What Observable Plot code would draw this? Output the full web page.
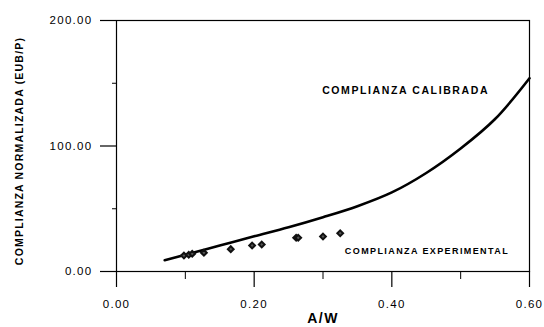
<!DOCTYPE html>
<html>
<head>
<meta charset="utf-8">
<script src="https://cdn.jsdelivr.net/npm/d3@7"></script>
<script src="https://cdn.jsdelivr.net/npm/@observablehq/plot@0.6"></script>
<style>
  html, body { margin: 0; padding: 0; background: #fff; }
  svg { font-family: "Liberation Sans", Arial, sans-serif; }
</style>
</head>
<body>
<div id="chart"></div>
<script>
// Calibrated compliance curve (A/W vs normalized compliance EUB/P)
const curveAW = [0.07, 0.10, 0.15, 0.20, 0.25, 0.30, 0.35, 0.40, 0.45, 0.50, 0.55, 0.60];
const curveC  = [9.0, 13.4, 20.7, 28.0, 35.2, 43.2, 52.0, 63.0, 78.5, 98.0, 121.5, 154.0];

// Experimental compliance measurements
const expAW = [0.098, 0.105, 0.110, 0.127, 0.166, 0.197, 0.211, 0.261, 0.264, 0.300, 0.325];
const expC  = [12.7, 13.3, 14.1, 14.9, 17.8, 20.7, 21.5, 26.9, 26.9, 27.9, 30.5];

// Axis ticks
const xMajor = [0, 0.2, 0.4, 0.6];
const xMinor = [0.1, 0.3, 0.5];
const yMajor = [0, 100, 200];
const yMinor = [50, 150];

// Text
const xTitle = "A/W";
const yTitle = "COMPLIANZA NORMALIZADA (EUB/P)";
const calLabel = {text: "COMPLIANZA CALIBRADA", x: 0.42, y: 144};
const expLabel = {text: "COMPLIANZA EXPERIMENTAL", x: 0.451, y: 16.2};

const curve = curveAW.map((x, i) => ({x, y: curveC[i]}));
const points = expAW.map((x, i) => ({x, y: expC[i]}));

const plot = Plot.plot({
  width: 544,
  height: 327,
  marginLeft: 116,
  marginRight: 15,
  marginTop: 20,
  marginBottom: 56,
  style: {fontFamily: '"Liberation Sans", Arial, sans-serif', background: "#fff", color: "#000"},
  x: {domain: [0, 0.6]},
  y: {domain: [0, 200]},
  marks: [
    Plot.frame({stroke: "#000", strokeWidth: 1.2}),
    Plot.axisX(xMajor, {tickSize: 16, tickPadding: 12, tickFormat: d3.format(".2f"), fontSize: 11.5, label: null, strokeWidth: 1.2}),
    Plot.axisX(xMinor, {tickSize: 8, tickFormat: () => "", label: null, strokeWidth: 1}),
    Plot.axisY(yMajor, {tickSize: 16, tickPadding: 8, tickFormat: d3.format(".2f"), fontSize: 11.5, label: null, strokeWidth: 1.2}),
    Plot.axisY(yMinor, {tickSize: 4, tickFormat: () => "", label: null, strokeWidth: 1}),
    Plot.line(curve, {x: "x", y: "y", curve: "catmull-rom", stroke: "#000", strokeWidth: 2.6}),
    Plot.dot(points, {x: "x", y: "y", symbol: "diamond2", r: 2.6, stroke: "#111", strokeWidth: 2, fill: "#555"}),
    Plot.text([calLabel], {x: "x", y: "y", text: "text", fontWeight: "bold", fontSize: 10.5, fill: "#000"}),
    Plot.text([expLabel], {x: "x", y: "y", text: "text", fontWeight: "bold", fontSize: 9, fill: "#000"}),
    Plot.text([xTitle], {frameAnchor: "bottom", dy: 51, fontWeight: "bold", fontSize: 14, fill: "#000"}),
    Plot.text([yTitle], {frameAnchor: "left", dx: -97, dy: 5, textAnchor: "middle", rotate: -90, fontWeight: "bold", fontSize: 10.5, fill: "#000"})
  ]
});

// Wide letter spacing of the printed labels
const spacing = {
  [xTitle]: "1.5px",
  [yTitle]: "1.2px",
  [calLabel.text]: "1.6px",
  [expLabel.text]: "1.4px"
};
d3.select(plot).selectAll("text").each(function() {
  const t = this.textContent;
  if (spacing[t]) this.setAttribute("letter-spacing", spacing[t]);
  else if (/^\d+\.\d\d$/.test(t)) this.setAttribute("letter-spacing", "1.3px");
});

document.getElementById("chart").appendChild(plot);
</script>
</body>
</html>
